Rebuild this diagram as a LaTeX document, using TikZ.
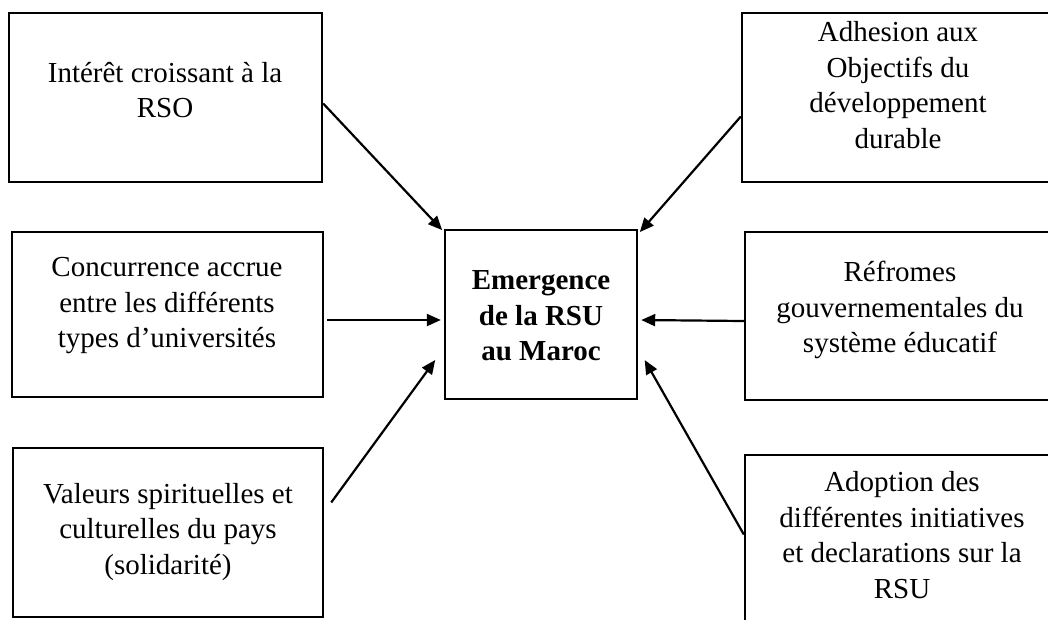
\documentclass[tikz,border=0pt]{standalone}
\usepackage{fontspec}
\setmainfont{Liberation Serif}
\usetikzlibrary{arrows.meta}
\tikzset{
  boxnode/.style={draw=black, line width=2.4pt, rectangle, inner sep=0pt},
  txtnode/.style={align=center, inner sep=0pt, font=\fontsize{29}{35.5}\selectfont},
  conn/.style={line width=2.2pt, -{Triangle[length=14pt,width=12pt]}, shorten >=1pt}
}
\begin{document}
\begin{tikzpicture}[x=1pt,y=-1pt]
\path[use as bounding box, clip] (0,0) rectangle (1048,619);
\fill[white] (0,0) rectangle (1048,619);
% left boxes
\node[boxnode, minimum width=313pt, minimum height=169pt] (b1) at (165.5,97.5) {};
\node[txtnode] (t1) at (165,90) {Intérêt croissant à la\\RSO};
\node[boxnode, minimum width=311pt, minimum height=165pt] (b2) at (167.5,314.5) {};
\node[txtnode] (t2) at (167,306) {Concurrence accrue\\entre les différents\\types d’universités};
\node[boxnode, minimum width=310pt, minimum height=169pt] (b3) at (168,532.5) {};
\node[txtnode] (t3) at (168,532) {Valeurs spirituelles et\\culturelles du pays\\(solidarité)};
% right boxes (cut by the page edge)
\node[boxnode, minimum width=320pt, minimum height=169pt] (b4) at (902,97.5) {};
\node[txtnode] (t4) at (898,85) {Adhesion aux\\Objectifs du\\développement\\durable};
\node[boxnode, minimum width=315pt, minimum height=168pt] (b5) at (902.5,316) {};
\node[txtnode] (t5) at (900,310) {Réfromes\\gouvernementales du\\système éducatif};
\node[boxnode, minimum width=315pt, minimum height=200pt] (b6) at (902.5,555) {};
\node[txtnode] (t6) at (902,535) {Adoption des\\différentes initiatives\\et declarations sur la\\RSU};
% centre
\node[boxnode, minimum width=192pt, minimum height=169pt] (c) at (541,314.5) {};
\node[txtnode, font=\fontsize{29}{35.5}\selectfont\bfseries] (tc) at (541,316) {Emergence\\de la RSU\\au Maroc};
% connectors
\draw[conn] ([yshift=-6pt]b1.east) -- ([xshift=-1pt,yshift=-2pt]c.north west);
\draw[conn] ([yshift=-19pt]b4.west) -- ([xshift=1pt,yshift=-4pt]c.north east);
\draw[conn] ([xshift=3pt,yshift=-5.5pt]b2.east) -- ([xshift=-2pt,yshift=-5.5pt]c.west);
\draw[conn] ([yshift=-5pt]b5.west) -- ([xshift=2pt,yshift=-5.5pt]c.east);
\draw[conn] ([xshift=7pt,yshift=30pt]b3.east) -- ([xshift=-8pt,yshift=41pt]c.south west);
\draw[conn] ([yshift=20.5pt]b6.west) -- ([xshift=6pt,yshift=41pt]c.south east);
\end{tikzpicture}
\end{document}
